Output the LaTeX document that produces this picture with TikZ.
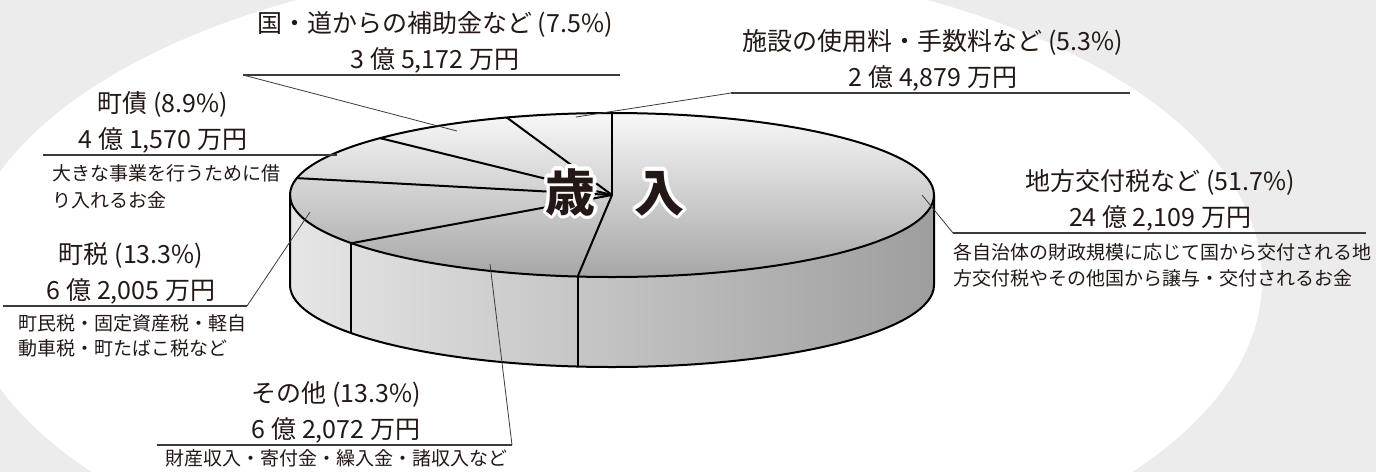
\documentclass[tikz,border=0pt]{standalone}
\usepackage{fontspec}
\setmainfont{Noto Sans CJK JP}
\definecolor{bggray}{HTML}{ECECEC}
\definecolor{ink}{HTML}{231815}
\definecolor{lineg}{HTML}{3E3A39}
\definecolor{topT}{HTML}{F8F8F8}
\definecolor{topM}{HTML}{D8D8D8}
\definecolor{topB}{HTML}{A6A6A6}
\definecolor{sideL}{HTML}{E6E6E6}
\definecolor{sideM}{HTML}{ABABAB}
\definecolor{sideR}{HTML}{9E9E9E}
\pgfdeclareradialshading{glow}{\pgfpoint{0bp}{0bp}}{color(0bp)=(white); color(31bp)=(white); color(47bp)=(bggray); color(50bp)=(bggray)}
\tikzset{
  lab/.style={anchor=base,text=ink,inner sep=0pt,font=\fontsize{25}{30}\selectfont},
  note/.style={anchor=base west,text=ink,inner sep=0pt,font=\fontsize{19}{24}\selectfont},
  uline/.style={draw=lineg,line width=1.2pt},
  lead/.style={draw=lineg,line width=0.8pt},
  rim/.style={line width=2pt,line join=round}
}
\begin{document}
\begin{tikzpicture}[x=1pt,y=-1pt]
\useasboundingbox (0,0) rectangle (1376,472);
\clip (0,0) rectangle (1376,472);
\fill[bggray] (0,0) rectangle (1376,472);
\shade[shading=glow] (612,280) ellipse [x radius=650, y radius=320];

% pie
\begin{scope}[shift={(612,195)},yscale=-1]
\coordinate (cen) at (0,0);
\shade[left color=sideL,middle color=sideM,right color=sideR] (180:322 and 82) -- ++(0,-90) arc[start angle=180,end angle=360,x radius=322,y radius=82] -- ++(0,90) arc[start angle=0,end angle=-180,x radius=322,y radius=82] -- cycle;
\shade[top color=topT,middle color=topM,bottom color=topB] (cen) ellipse [x radius=322,y radius=82];
\foreach \a in {90,-96.12,-144,168.12,136.08,109.08} \draw[rim] (cen) -- (\a:322 and 82);
\foreach \a in {-96.12,-144} \draw[rim] (\a:322 and 82) -- ++(0,-90);
\draw[rim] (cen) ellipse [x radius=322,y radius=82];
\draw[rim] (180:322 and 82) -- ++(0,-90) arc[start angle=180,end angle=360,x radius=322,y radius=82] -- ++(0,90);
\end{scope}

\foreach \a in {0,22.5,...,337.5}
  \node[text=white,font=\fontsize{50}{50}\selectfont\bfseries,shift={(\a:3.5)}] at (615,192) {歳\hspace{39pt}入};
\node[text=ink,font=\fontsize{50}{50}\selectfont\bfseries] (sainyu) at (615,192) {歳\hspace{39pt}入};

% 国・道
\node[lab] (kuni1) at (435,32) {国・道からの補助金など (7.5\%)};
\node[lab] (kuni2) at (435,68) {3 億 5,172 万円};
\coordinate (kuniL) at (243,75); \coordinate (kuniR) at (620,75); \coordinate (kuniP) at (457,131);
\draw[uline] (kuniL) -- (kuniR); \draw[lead] (kuniL) -- (kuniP);

% 施設
\node[lab] (shisetsu1) at (933,50) {施設の使用料・手数料など (5.3\%)};
\node[lab] (shisetsu2) at (933,86) {2 億 4,879 万円};
\coordinate (shisetsuL) at (731,93); \coordinate (shisetsuR) at (1130,93); \coordinate (shisetsuP) at (576,117);
\draw[uline] (shisetsuL) -- (shisetsuR); \draw[lead] (shisetsuL) -- (shisetsuP);

% 町債
\node[lab] (chosai1) at (163,112) {町債 (8.9\%)};
\node[lab] (chosai2) at (163,148) {4 億 1,570 万円};
\node[note] (chosai3) at (52,180) {大きな事業を行うために借};
\node[note] (chosai4) at (52,207) {り入れるお金};
\coordinate (chosaiL) at (43,155); \coordinate (chosaiP) at (337,155);
\draw[uline] (chosaiL) -- (chosaiP);

% 町税
\node[lab] (chozei1) at (131,263) {町税 (13.3\%)};
\node[lab] (chozei2) at (131,299) {6 億 2,005 万円};
\node[note] (chozei3) at (18,330) {町民税・固定資産税・軽自};
\node[note] (chozei4) at (18,355) {動車税・町たばこ税など};
\coordinate (chozeiL) at (3,306); \coordinate (chozeiR) at (247,306); \coordinate (chozeiP) at (310,212);
\draw[uline] (chozeiL) -- (chozeiR); \draw[lead] (chozeiR) -- (chozeiP);

% その他
\node[lab] (sonota1) at (336,402) {その他 (13.3\%)};
\node[lab] (sonota2) at (336,438) {6 億 2,072 万円};
\node[note,anchor=base] (sonota3) at (336,465) {財産収入・寄付金・繰入金・諸収入など};
\coordinate (sonotaL) at (157,445); \coordinate (sonotaR) at (512,445); \coordinate (sonotaP) at (490,264);
\draw[uline] (sonotaL) -- (sonotaR); \draw[lead] (sonotaR) -- (sonotaP);

% 地方交付税
\node[lab] (chiho1) at (1160,190) {地方交付税など (51.7\%)};
\node[lab] (chiho2) at (1160,226) {24 億 2,109 万円};
\node[note] (chiho3) at (953,259) {各自治体の財政規模に応じて国から交付される地};
\node[note] (chiho4) at (953,285) {方交付税やその他国から譲与・交付されるお金};
\coordinate (chihoL) at (953,233); \coordinate (chihoR) at (1366,233); \coordinate (chihoP) at (922,195);
\draw[uline] (chihoL) -- (chihoR); \draw[lead] (chihoL) -- (chihoP);
\end{tikzpicture}
\end{document}
